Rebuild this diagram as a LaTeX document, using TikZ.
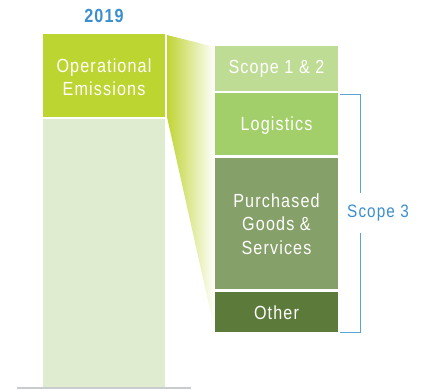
\documentclass[tikz,border=0pt]{standalone}
\usepackage{fontspec}
\setmainfont{Liberation Sans}[FakeStretch=0.85, LetterSpace=6]
\begin{document}
\begin{tikzpicture}[x=1pt,y=-1pt,
  opcol/.style={fill={rgb,255:red,189;green,213;blue,49}},
  barcol/.style={fill={rgb,255:red,224;green,236;blue,208}},
  lbl/.style={text=white, font=\fontsize{19}{23.5}\selectfont, align=center},
  bluetxt/.style={text={rgb,255:red,59;green,143;blue,207}}
]
\definecolor{fancol}{RGB}{192,212,52}
\definecolor{bracketcol}{RGB}{90,165,216}
\definecolor{basecol}{RGB}{200,204,204}
\definecolor{sA}{RGB}{191,220,149}
\definecolor{sB}{RGB}{163,207,106}
\definecolor{sC}{RGB}{134,160,105}
\definecolor{sD}{RGB}{92,122,58}

\useasboundingbox (0,0) rectangle (441,389);

% year heading
\node[bluetxt, font=\fontsize{19}{20}\selectfont\bfseries] (year) at (104,16) {2019};

% 2019 column: operational share on top of the light remainder
\fill[opcol] (43,34) rectangle (165,117);
\node[lbl] (op) at (104,77) {Operational\\Emissions};
\fill[barcol] (43,119) rectangle (165,388);
\draw[basecol, line width=1.5pt] (17,388) -- (191,388);

% fan from the operational box to the breakdown
\shade[left color=fancol, right color=white]
  (167,35) -- (215,47) -- (215,332) -- (167,117) -- cycle;

% breakdown stack
\fill[sA] (215,46) rectangle (338,91);
\node[lbl] (s12) at (276.5,69) {Scope 1 \& 2};
\fill[sB] (215,93) rectangle (338,155);
\node[lbl] (log) at (276.5,126) {Logistics};
\fill[sC] (215,158) rectangle (338,289);
\node[lbl] (pur) at (276.5,224) {Purchased\\Goods \&\\Services};
\fill[sD] (215,292) rectangle (338,332);
\node[lbl] (oth) at (276.5,313) {Other};

% scope 3 bracket
\coordinate (bt) at (340,94);
\coordinate (bb) at (340,332);
\draw[bracketcol, line width=1pt] (bt) -- (360,94) -- (360,332) -- (bb);
\node[bluetxt, fill=white, inner xsep=1pt, inner ysep=12pt,
  font=\fontsize{18}{20}\selectfont] (s3) at (378,213) {Scope 3};
\end{tikzpicture}
\end{document}
